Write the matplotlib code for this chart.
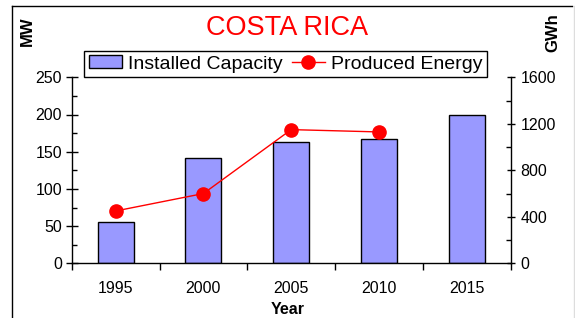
import matplotlib
matplotlib.use("Agg")
import matplotlib.pyplot as plt
from matplotlib.lines import Line2D
from matplotlib.ticker import MultipleLocator, FixedLocator
import numpy as np

plt.rcParams['font.family'] = ['Liberation Sans', 'DejaVu Sans']

years = ['1995', '2000', '2005', '2010', '2015']
capacity_mw = [55, 142, 163, 167, 200]
energy_years = ['1995', '2000', '2005', '2010']
energy_gwh = [450, 600, 1150, 1130]

W, H = 575, 318
fig = plt.figure(figsize=(W / 100, H / 100), dpi=100)
fig.patch.set_facecolor('white')

ax = fig.add_axes([71.7 / W, 1 - 263.3 / H, (510.7 - 71.7) / W, (263.3 - 77.3) / H])
ax2 = ax.twinx()

x = np.arange(len(years))
bars = ax.bar(x, capacity_mw, width=0.41, color='#9999FF', edgecolor='black', linewidth=1.0,
              label='Installed Capacity', zorder=2)
ex = [years.index(y) for y in energy_years]
line, = ax2.plot(ex, energy_gwh, color='red', lw=1.0, marker='o', markersize=9.5,
                 markerfacecolor='red', markeredgecolor='red', label='Produced Energy', zorder=3)

ax.set_xlim(-0.5, len(years) - 0.5)
ax.set_ylim(0, 250)
ax2.set_ylim(0, 1600)

# x ticks: marks at category boundaries, labels at centers
ax.xaxis.set_major_locator(FixedLocator(x))
ax.set_xticklabels(years, fontsize=11.5)
ax.xaxis.set_minor_locator(FixedLocator(np.arange(-0.5, len(years), 1.0)))
ax.tick_params(axis='x', which='major', length=0, pad=13)
ax.tick_params(axis='x', which='minor', length=5, width=1, direction='out', color='black')

ax.yaxis.set_major_locator(MultipleLocator(50))
ax.yaxis.set_minor_locator(MultipleLocator(25))
ax.tick_params(axis='y', which='major', length=8, width=1, direction='inout', labelsize=11.5, pad=3)
ax.tick_params(axis='y', which='minor', length=3.6, width=1, direction='in')

ax2.yaxis.set_major_locator(MultipleLocator(400))
ax2.yaxis.set_minor_locator(MultipleLocator(200))
ax2.tick_params(axis='y', which='major', length=6, width=1, direction='inout', labelsize=11.5, pad=4)
ax2.tick_params(axis='y', which='minor', length=3.4, width=1, direction='in')

for a in (ax, ax2):
    a.spines['top'].set_visible(False)
    for s in ('left', 'right', 'bottom'):
        a.spines[s].set_linewidth(1.0)
        a.spines[s].set_color('black')
ax.spines['right'].set_visible(False)
ax2.spines['left'].set_visible(False)
ax2.spines['bottom'].set_visible(False)

ax.set_zorder(1)
ax2.set_zorder(2)
ax2.patch.set_visible(False)

fig.text(288 / W, 1 - 309 / H, 'Year', ha='center', va='center', fontsize=11.5, fontweight='bold')
fig.text(27 / W, 1 - 31 / H, 'MW', ha='center', va='center', rotation=90, fontsize=12, fontweight='bold')
fig.text(553 / W, 1 - 33 / H, 'GWh', ha='center', va='center', rotation=90, fontsize=12, fontweight='bold')
fig.text(287 / W, 1 - 28 / H, 'COSTA RICA', ha='center', va='center', fontsize=19.5, color='red')

leg = fig.legend([bars, line], ['Installed Capacity', 'Produced Energy'], loc='center',
                 bbox_to_anchor=(285.5 / W, 1 - 64 / H), bbox_transform=fig.transFigure,
                 ncol=2, fontsize=14, frameon=True, fancybox=False, framealpha=1,
                 edgecolor='black', handlelength=1.7, handleheight=0.6, handletextpad=0.3,
                 columnspacing=0.5, borderpad=0.25, borderaxespad=0)
leg.get_frame().set_linewidth(1.0)

# outer frame
fig.add_artist(Line2D([11.5 / W, 11.5 / W], [0, 1 - 5.5 / H], color='black', lw=1.0, transform=fig.transFigure))
fig.add_artist(Line2D([11.5 / W, 572 / W], [1 - 5.5 / H, 1 - 5.5 / H], color='black', lw=1.0, transform=fig.transFigure))
fig.add_artist(Line2D([573.5 / W, 573.5 / W], [0, 1 - 5.5 / H], color='#DDDDDD', lw=1.0, transform=fig.transFigure))

fig.savefig('out.png', dpi=100, facecolor='white')
